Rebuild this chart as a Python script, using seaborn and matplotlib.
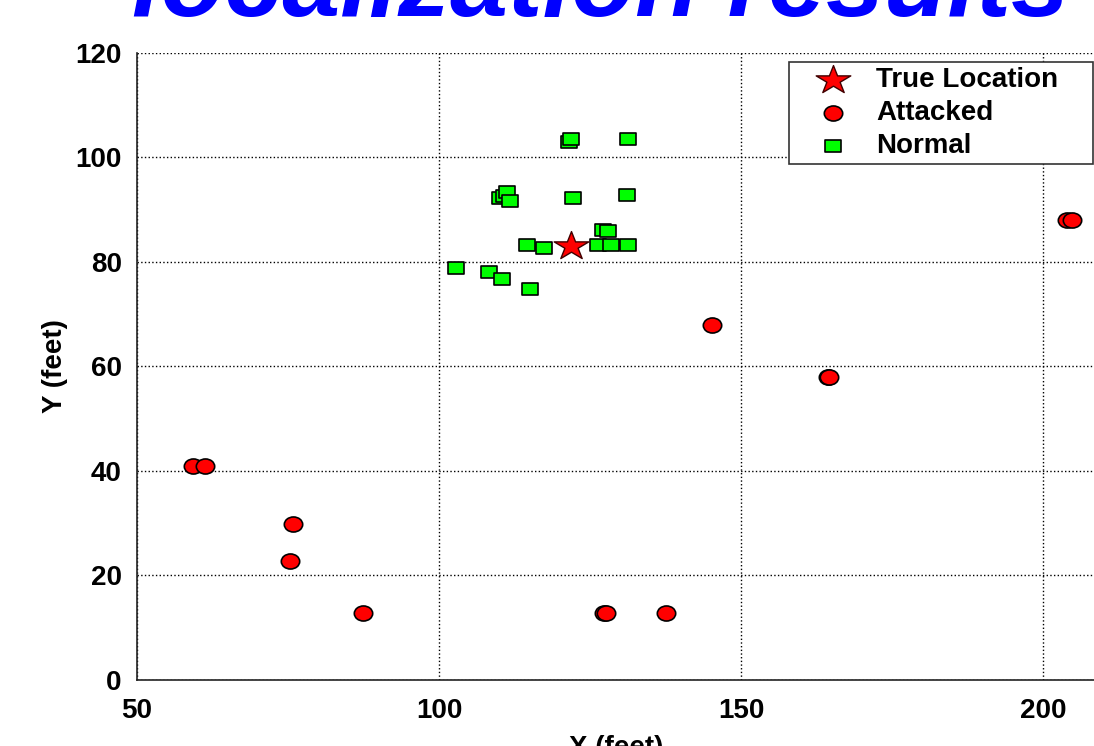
import numpy as np
import seaborn as sns
import matplotlib.pyplot as plt
from matplotlib.markers import MarkerStyle
from matplotlib.path import Path

# Data
true_x = [121.8]
true_y = [83.1]

attacked_x = [59.2, 61.3, 75.9, 75.3, 87.4, 127.3, 127.7, 137.5, 145.1, 164.3, 164.6, 203.9, 204.7]
attacked_y = [40.9, 40.9, 29.9, 22.8, 12.8, 12.8, 12.8, 12.8, 67.9, 57.9, 57.9, 88.0, 88.0]

normal_x = [121.5, 121.8, 131.3, 110.1, 110.8, 111.2, 111.8, 122.2, 131.1, 127.2,
            128.0, 114.5, 117.4, 126.3, 128.5, 131.2, 102.8, 108.2, 110.4, 115.0]
normal_y = [103.0, 103.5, 103.5, 92.3, 92.7, 93.3, 91.7, 92.2, 92.9, 86.2,
            86.0, 83.3, 82.6, 83.3, 83.3, 83.3, 78.9, 78.1, 76.7, 74.9]

x_ticks = [50, 100, 150, 200]
y_ticks = [0, 20, 40, 60, 80, 100, 120]

sns.set_style("white")
plt.rcParams['font.family'] = ['Liberation Sans', 'DejaVu Sans']
plt.rcParams['font.weight'] = 'bold'
plt.rcParams['text.color'] = 'black'
plt.rcParams['axes.labelcolor'] = 'black'


def wide(m, sx=1.22):
    # the reference is stretched sideways, so stretch the markers too
    ms = MarkerStyle(m)
    p = ms.get_path().transformed(ms.get_transform())
    return Path(p.vertices * np.array([sx, 1.0]), p.codes)


fig = plt.figure(figsize=(10.94, 7.46), dpi=100)
ax = fig.add_axes([0.1252, 0.0885, 0.8760, 0.8405])

sns.scatterplot(x=true_x, y=true_y, ax=ax, marker=wide('*'), s=620, color='#ff0000',
                edgecolor='#400000', linewidth=1.0, label='True Location', zorder=4)
sns.scatterplot(x=attacked_x, y=attacked_y, ax=ax, marker=wide('o'), s=175, color='#ff0000',
                edgecolor='black', linewidth=1.2, label='Attacked', zorder=3)
sns.scatterplot(x=normal_x, y=normal_y, ax=ax, marker=wide('s'), s=125, color='#00ff00',
                edgecolor='black', linewidth=1.2, label='Normal', zorder=3)

ax.set_xlim(50, 208.6)
ax.set_ylim(0, 120)
ax.set_xticks(x_ticks)
ax.set_yticks(y_ticks)
ax.grid(True, linestyle=':', color='black', linewidth=1.0)
ax.set_axisbelow(True)
for side in ['top', 'right']:
    ax.spines[side].set_visible(False)
for side in ['left', 'bottom']:
    ax.spines[side].set_color('#222222')
    ax.spines[side].set_linewidth(1.2)
ax.tick_params(direction='in', length=7, width=1, labelsize=20, colors='black', pad=11)
ax.tick_params(axis='x', pad=13)
for lab in ax.get_xticklabels() + ax.get_yticklabels():
    lab.set_fontweight('bold')

ax.set_xlabel('X (feet)', fontsize=20, fontweight='bold', labelpad=8)
ax.set_ylabel('Y (feet)', fontsize=20, fontweight='bold', labelpad=5)

leg = ax.legend(loc='upper left', bbox_to_anchor=(0.6804, 0.5, 0.3172, 0.4856),
                mode='expand', borderaxespad=0, fontsize=20,
                frameon=True, fancybox=False, framealpha=1, edgecolor='#333333',
                handletextpad=0.15, labelspacing=0.26, borderpad=0.18, handlelength=2.8)
leg.get_frame().set_linewidth(1.2)
for t in leg.get_texts():
    t.set_fontweight('bold')
    t.set_color('black')

fig.text(0.549, 1 - 16 / 746, 'localization results', ha='center', va='baseline',
         fontsize=75, fontweight='bold', fontstyle='italic', color='#0000ff')

fig.savefig('out.png', dpi=100)
